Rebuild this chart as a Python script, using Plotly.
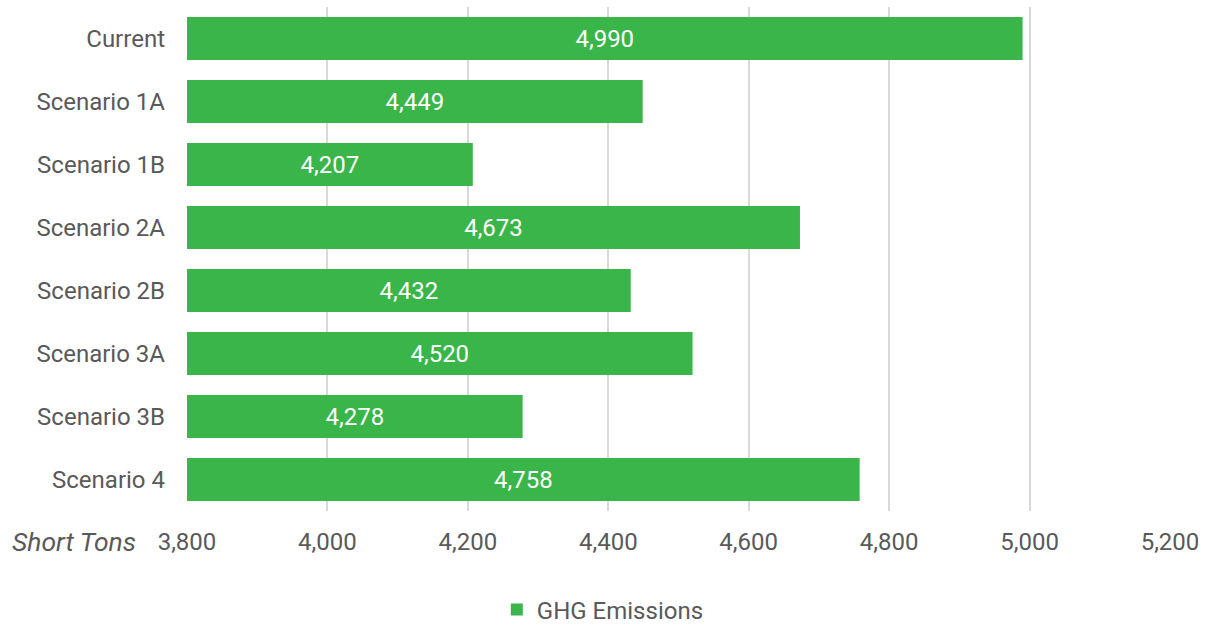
import plotly.graph_objects as go

categories = ["Current", "Scenario 1A", "Scenario 1B", "Scenario 2A",
              "Scenario 2B", "Scenario 3A", "Scenario 3B", "Scenario 4"]
ghg_emissions = [4990, 4449, 4207, 4673, 4432, 4520, 4278, 4758]
x_ticks = [3800, 4000, 4200, 4400, 4600, 4800, 5000, 5200]
axis_min = 3800
axis_max = 5200

GREEN = "#39B54A"
TXT = "#595959"
FONT = "Roboto"
FS = 24

fig = go.Figure()
fig.add_trace(go.Bar(
    y=categories,
    x=[v - axis_min for v in ghg_emissions],
    base=[axis_min] * len(ghg_emissions),
    orientation="h",
    name="GHG Emissions",
    marker=dict(color=GREEN, line=dict(width=0)),
    text=[f"{v:,}" for v in ghg_emissions],
    textposition="inside",
    insidetextanchor="middle",
    textangle=0,
    textfont=dict(color="white", size=FS, family=FONT),
    showlegend=True,
    hovertemplate="%{y}: %{text}<extra></extra>",
))

fig.update_layout(
    width=1207, height=625,
    margin=dict(l=187, r=37, t=7, b=114, autoexpand=False),
    paper_bgcolor="white",
    plot_bgcolor="white",
    font=dict(family=FONT, size=FS, color=TXT),
    bargap=0.32,
    xaxis=dict(
        range=[axis_min, axis_max],
        tickvals=x_ticks,
        ticktext=[f"{v:,}" for v in x_ticks],
        tickangle=0,
        automargin=False,
        showgrid=True,
        gridcolor="#D9D9D9",
        gridwidth=2,
        zeroline=False,
        showline=False,
        ticks="",
        ticklabelstandoff=14,
        tickfont=dict(size=FS, color=TXT),
    ),
    yaxis=dict(
        autorange="reversed",
        automargin=False,
        showgrid=False,
        showline=False,
        ticks="",
        ticklabelstandoff=21,
        tickfont=dict(size=FS, color=TXT),
    ),
    legend=dict(
        orientation="h",
        x=0.423, xanchor="center",
        y=-0.196, yanchor="middle",
        itemwidth=30,
        font=dict(size=FS, color=TXT),
    ),
    annotations=[dict(
        text="<i>Short Tons</i>",
        xref="paper", yref="paper",
        x=-0.18, y=-0.061,
        xanchor="left", yanchor="middle",
        showarrow=False,
        font=dict(size=26.5, color=TXT),
    )],
)

fig.write_html("out.html")
